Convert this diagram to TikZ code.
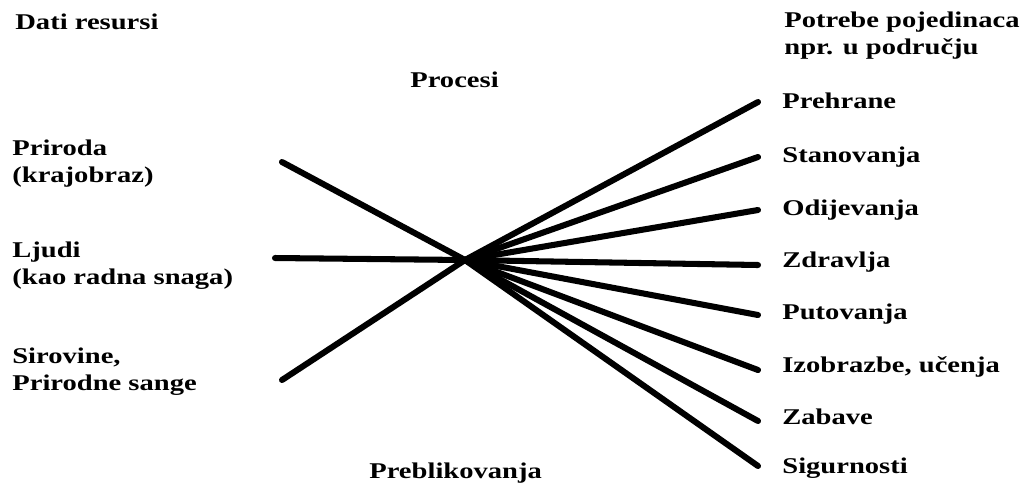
\documentclass[tikz,border=0pt]{standalone}
\usepackage{fontspec}
\setmainfont{Liberation Serif}
\usetikzlibrary{positioning}
\tikzset{
    bareL/.style={line width=4.3pt, line cap=round, black},
    lbl/.style={anchor=base west, inner sep=0pt, align=left, xscale=1.27,
        font=\bfseries\fontsize{16}{19.2}\selectfont}
}
\begin{document}
\begin{tikzpicture}[x=0.025cm, y=-0.025cm]
    \useasboundingbox (0,0) rectangle (1029,483);
    % centre of the fan
    \coordinate (c) at (465, 260);
    % inputs
    \coordinate (l1) at (282, 162);
    \coordinate (l2) at (275, 258);
    \coordinate (l3) at (282, 380);
    % outputs
    \coordinate (r1) at (758, 102);
    \coordinate (r2) at (758, 157);
    \coordinate (r3) at (758, 210);
    \coordinate (r4) at (758, 265);
    \coordinate (r5) at (758, 315);
    \coordinate (r6) at (758, 370);
    \coordinate (r7) at (758, 421);
    \coordinate (r8) at (758, 466);
    \draw[bareL] (l1) -- (c);
    \draw[bareL] (l2) -- (c);
    \draw[bareL] (l3) -- (c);
    \draw[bareL] (c) -- (r1);
    \draw[bareL] (c) -- (r2);
    \draw[bareL] (c) -- (r3);
    \draw[bareL] (c) -- (r4);
    \draw[bareL] (c) -- (r5);
    \draw[bareL] (c) -- (r6);
    \draw[bareL] (c) -- (r7);
    \draw[bareL] (c) -- (r8);
    % headings (two-line nodes sit on their last baseline)
    \node[lbl] (dati) at (15, 29) {Dati resursi};
    \node[lbl] (proc) at (410, 87) {Procesi};
    \node[lbl] (potr) at (784, 54) {Potrebe pojedinaca\\npr. u području};
    \node[lbl] (preb) at (369, 478) {Preblikovanja};
    % left labels
    \node[lbl] (t1) at (12, 182) {Priroda\\(krajobraz)};
    \node[lbl] (t2) at (12, 284) {Ljudi\\(kao radna snaga)};
    \node[lbl] (t3) at (12, 390) {Sirovine,\\Prirodne sange};
    % right labels
    \node[lbl] (s1) at (782, 108) {Prehrane};
    \node[lbl] (s2) at (782, 162) {Stanovanja};
    \node[lbl] (s3) at (782, 215) {Odijevanja};
    \node[lbl] (s4) at (782, 267) {Zdravlja};
    \node[lbl] (s5) at (782, 319) {Putovanja};
    \node[lbl] (s6) at (782, 372) {Izobrazbe, učenja};
    \node[lbl] (s7) at (782, 424) {Zabave};
    \node[lbl] (s8) at (782, 473) {Sigurnosti};
\end{tikzpicture}
\end{document}
